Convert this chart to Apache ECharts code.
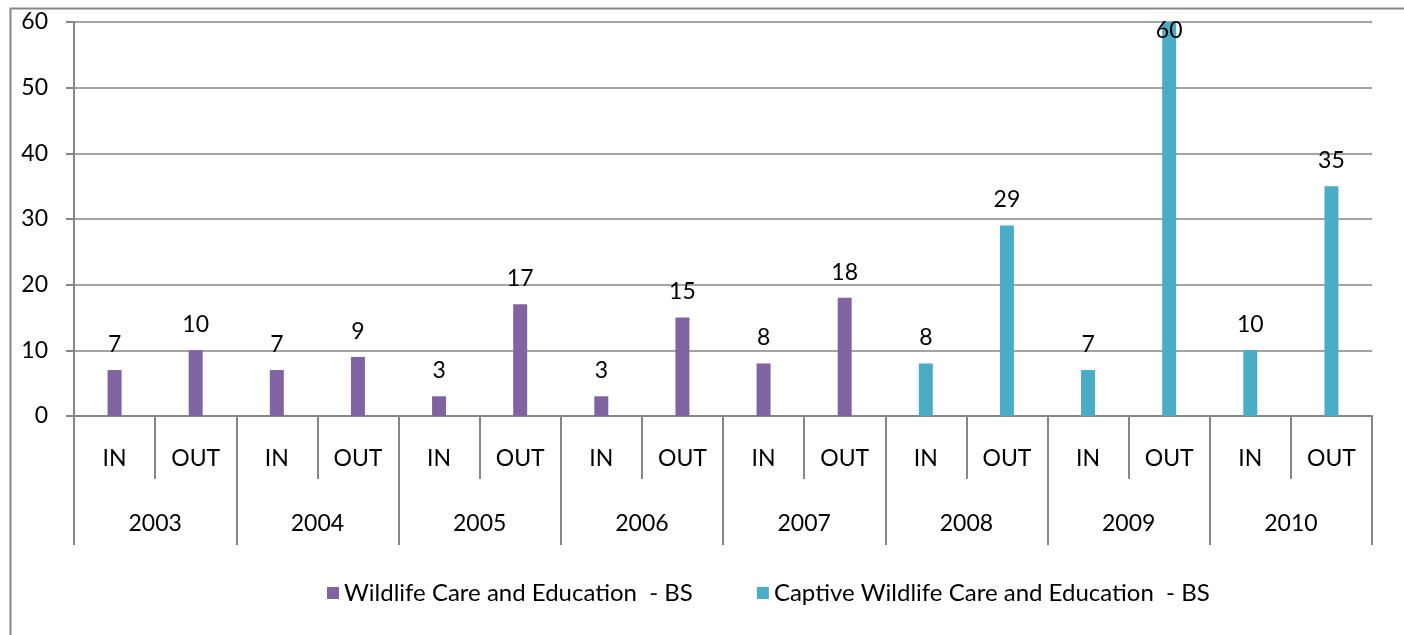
<!DOCTYPE html>
<html>
<head>
<meta charset="utf-8">
<script src="https://cdn.jsdelivr.net/npm/echarts@6/dist/echarts.min.js"></script>
<style>
html,body{margin:0;padding:0;background:#fff;}
#chart{width:1404px;height:635px;}
</style>
</head>
<body>
<div id="chart"></div>
<script>
const years = ['2003','2004','2005','2006','2007','2008','2009','2010'];
const directions = ['IN','OUT'];
const wildlifeCare = [7,10,7,9,3,17,3,15,8,18,null,null,null,null,null,null];
const captiveWildlifeCare = [null,null,null,null,null,null,null,null,null,null,8,29,7,60,10,35];
const seriesNames = ['Wildlife Care and Education  - BS','Captive Wildlife Care and Education  - BS'];
const yTicks = [0,10,20,30,40,50,60];

const FONT = 'Lato';
const GRAY = '#868686';
const yMax = yTicks[yTicks.length-1];
const subCats = [];
years.forEach(() => directions.forEach(d => subCats.push(d)));

function buildData(arr){
  return arr.map(v => {
    if (v !== null && v >= yMax) {
      return {value: v, label: {position: 'insideTop', distance: -3}};
    }
    return v;
  });
}

const chart = echarts.init(document.getElementById('chart'));
chart.setOption({
  animation: false,
  backgroundColor: '#fff',
  textStyle: {fontFamily: FONT},
  graphic: [{
    type: 'rect', left: 8, top: 6, shape: {width: 1420, height: 700},
    style: {fill: 'none', stroke: GRAY, lineWidth: 2}, silent: true, z: -1
  }],
  grid: {left: 74, right: 32, top: 22, bottom: 219, containLabel: false},
  legend: {
    left: 322, top: 576,
    itemWidth: 12, itemHeight: 12, itemGap: 64,
    icon: 'rect',
    textStyle: {fontFamily: FONT, fontSize: 24, color: '#000'},
    data: seriesNames
  },
  xAxis: [{
    type: 'category', data: subCats, position: 'bottom',
    axisLine: {show: true, lineStyle: {color: GRAY, width: 2}},
    axisTick: {show: true, length: 63, interval: 0, lineStyle: {color: GRAY, width: 2}},
    axisLabel: {interval: 0, margin: 31, fontFamily: FONT, fontSize: 23, color: '#000'},
    splitLine: {show: false}
  }, {
    type: 'category', data: years, position: 'bottom',
    axisLine: {show: false},
    axisTick: {show: true, length: 129, interval: 0, lineStyle: {color: GRAY, width: 2}},
    axisLabel: {interval: 0, margin: 96, fontFamily: FONT, fontSize: 23, color: '#000'},
    splitLine: {show: false}
  }],
  yAxis: {
    type: 'value', min: 0, max: yMax, interval: 10,
    axisLine: {show: true, lineStyle: {color: GRAY, width: 2}},
    axisTick: {show: true, length: 8, lineStyle: {color: GRAY, width: 2}},
    axisLabel: {margin: 26, fontFamily: FONT, fontSize: 23, color: '#000'},
    splitLine: {show: true, lineStyle: {color: GRAY, width: 1.5}}
  },
  series: [{
    name: seriesNames[0], type: 'bar', xAxisIndex: 0,
    data: buildData(wildlifeCare),
    barWidth: 14, barGap: '-100%',
    itemStyle: {color: '#8064A2'},
    label: {show: true, position: 'top', distance: 14, fontFamily: FONT, fontSize: 23, color: '#000'}
  }, {
    name: seriesNames[1], type: 'bar', xAxisIndex: 0,
    data: buildData(captiveWildlifeCare),
    barWidth: 14, barGap: '-100%',
    itemStyle: {color: '#4BACC6'},
    label: {show: true, position: 'top', distance: 14, fontFamily: FONT, fontSize: 23, color: '#000'}
  }]
});
</script>
</body>
</html>
